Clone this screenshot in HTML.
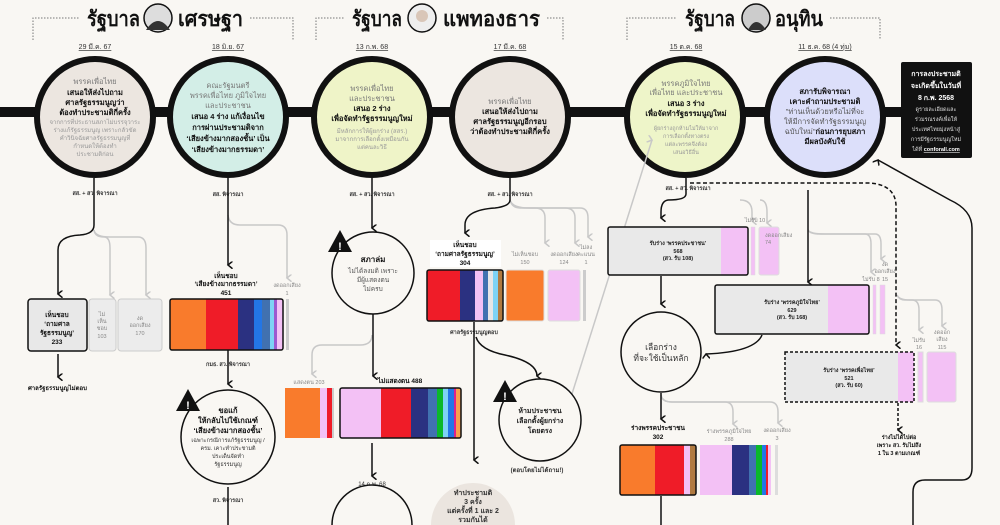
<!DOCTYPE html>
<html><head><meta charset="utf-8"><style>
html,body{margin:0;padding:0;background:#f9f7f3;width:1000px;height:525px;overflow:hidden}
svg{display:block;overflow:hidden;font-family:"Liberation Sans","DejaVu Sans","Noto Sans CJK SC",sans-serif}
.b{font-weight:bold}
</style></head><body>
<svg width="1000" height="525" viewBox="0 0 1000 525" xmlns="http://www.w3.org/2000/svg">
<defs>
<marker id="ah" viewBox="0 0 10 10" refX="5" refY="8" markerWidth="5" markerHeight="5" orient="auto-start-reverse"><path d="M0 2 L5 8 L10 2" fill="none" stroke="#111" stroke-width="2"/></marker>
<marker id="ag" viewBox="0 0 10 10" refX="5" refY="8" markerWidth="5" markerHeight="5" orient="auto-start-reverse"><path d="M0 2 L5 8 L10 2" fill="none" stroke="#c8c8c8" stroke-width="2"/></marker>
</defs>
<rect width="1000" height="525" fill="#f9f7f3"/>

<!-- header brackets -->
<g fill="none" stroke="#777" stroke-dasharray="1.5 1.5" stroke-width="1">
<path d="M33 40 V18 H80 M250 18 H293 V40"/>
<path d="M316 40 V18 H345 M547 18 H563 V40"/>
<path d="M627 40 V18 H677 M830 18 H880 V40"/>
</g>
<g font-size="21" class="b" fill="#111">
<text x="87" y="26" textLength="53" lengthAdjust="spacingAndGlyphs">รัฐบาล</text><text x="178" y="26" textLength="65" lengthAdjust="spacingAndGlyphs">เศรษฐา</text>
<text x="352" y="26" textLength="50" lengthAdjust="spacingAndGlyphs">รัฐบาล</text><text x="443" y="26" textLength="97" lengthAdjust="spacingAndGlyphs">แพทองธาร</text>
<text x="685" y="26" textLength="50" lengthAdjust="spacingAndGlyphs">รัฐบาล</text><text x="775" y="26" textLength="48" lengthAdjust="spacingAndGlyphs">อนุทิน</text>
</g>
<g stroke="#111" stroke-width="1.5">
<circle cx="158" cy="18" r="14" fill="#ddd"/><circle cx="422" cy="18" r="14" fill="#eee"/><circle cx="756" cy="18" r="14" fill="#ccc"/>
</g>
<path d="M146 30 Q158 12 170 30Z M748 30 Q756 14 766 30Z" fill="#333"/>
<circle cx="422" cy="16" r="6" fill="#d9c6b8"/>

<!-- dates -->
<g font-size="7" fill="#333" text-anchor="middle" text-decoration="underline">
<text x="95" y="49">29 มี.ค. 67</text><text x="228" y="49">18 มิ.ย. 67</text><text x="372" y="49">13 ก.พ. 68</text>
<text x="510" y="49">17 มี.ค. 68</text><text x="686" y="49">15 ต.ค. 68</text><text x="825" y="49">11 ธ.ค. 68 (4 ทุ่ม)</text>
</g>

<!-- timeline -->
<rect x="0" y="107" width="905" height="10" fill="#111"/>
<g stroke="#111" stroke-width="6">
<circle cx="95" cy="117" r="58" fill="#ece6e0"/>
<circle cx="228" cy="117" r="58" fill="#d3eee7"/>
<circle cx="372" cy="117" r="58" fill="#eff4c8"/>
<circle cx="510" cy="117" r="58" fill="#ece6e0"/>
<circle cx="685" cy="117" r="58" fill="#eef5c9"/>
<circle cx="825" cy="117" r="58" fill="#dcdffa"/>
</g>
<g text-anchor="middle" font-size="7.5">
<text x="95" y="84" fill="#777">พรรคเพื่อไทย</text>
<g class="b" fill="#111"><text x="95" y="95">เสนอให้ส่งไปถาม</text><text x="95" y="105">ศาลรัฐธรรมนูญว่า</text><text x="95" y="115">ต้องทำประชามติกี่ครั้ง</text></g>
<g fill="#999" font-size="6"><text x="95" y="124">จากการที่ประธานสภาไม่บรรจุวาระ</text><text x="95" y="132">ร่างแก้รัฐธรรมนูญ เพราะกลัวขัด</text><text x="95" y="140">คำวินิจฉัยศาลรัฐธรรมนูญที่</text><text x="95" y="148">กำหนดให้ต้องทำ</text><text x="95" y="156">ประชามติก่อน</text></g>

<text x="228" y="88" fill="#777">คณะรัฐมนตรี</text><text x="228" y="98" fill="#777">พรรคเพื่อไทย ภูมิใจไทย</text><text x="228" y="108" fill="#777">และประชาชน</text>
<g class="b" fill="#111"><text x="228" y="119">เสนอ 4 ร่าง แก้เงื่อนไข</text><text x="228" y="130">การผ่านประชามติจาก</text><text x="228" y="141">‘เสียงข้างมากสองชั้น’ เป็น</text><text x="228" y="152">‘เสียงข้างมากธรรมดา’</text></g>

<text x="372" y="91" fill="#777">พรรคเพื่อไทย</text><text x="372" y="101" fill="#777">และประชาชน</text>
<g class="b" fill="#111"><text x="372" y="111">เสนอ 2 ร่าง</text><text x="372" y="121">เพื่อจัดทำรัฐธรรมนูญใหม่</text></g>
<g fill="#999" font-size="6"><text x="372" y="133">มีหลักการให้ผู้ยกร่าง (สสร.)</text><text x="372" y="141">มาจากการเลือกตั้งเหมือนกัน</text><text x="372" y="149">แต่คนละวิธี</text></g>

<text x="510" y="104" fill="#777">พรรคเพื่อไทย</text>
<g class="b" fill="#111"><text x="510" y="114">เสนอให้ส่งไปถาม</text><text x="510" y="124">ศาลรัฐธรรมนูญอีกรอบ</text><text x="510" y="134">ว่าต้องทำประชามติกี่ครั้ง</text></g>

<text x="686" y="86" fill="#777">พรรคภูมิใจไทย</text><text x="686" y="95" fill="#777">เพื่อไทย และประชาชน</text>
<g class="b" fill="#111"><text x="686" y="106">เสนอ 3 ร่าง</text><text x="686" y="116">เพื่อจัดทำรัฐธรรมนูญใหม่</text></g>
<g fill="#999" font-size="5.5"><text x="686" y="130">ผู้ยกร่างถูกห้ามไม่ให้มาจาก</text><text x="686" y="138">การเลือกตั้งทางตรง</text><text x="686" y="146">แต่ละพรรคจึงต้อง</text><text x="686" y="154">เสนอวิธีอื่น</text></g>

<g class="b" fill="#111"><text x="825" y="94">สภารับพิจารณา</text><text x="825" y="104">เคาะคำถามประชามติ</text></g>
<g fill="#555"><text x="825" y="114">"ท่านเห็นด้วยหรือไม่ที่จะ</text><text x="825" y="124">ให้มีการจัดทำรัฐธรรมนูญ</text><text x="825" y="134">ฉบับใหม่"<tspan class="b" fill="#111">ก่อนการยุบสภา</tspan></text></g>
<text x="825" y="144" class="b" fill="#111">มีผลบังคับใช้</text>
</g>

<!-- black box -->
<rect x="901" y="62" width="71" height="96" rx="2" fill="#111"/>
<g text-anchor="middle" fill="#fff" font-size="7">
<g class="b"><text x="936" y="76">การลงประชามติ</text><text x="936" y="88">จะเกิดขึ้นในวันที่</text><text x="936" y="100">8 ก.พ. 2568</text></g>
<g font-size="5.5" fill="#ddd"><text x="936" y="111">ดูรายละเอียดและ</text><text x="936" y="121">ร่วมรณรงค์เพื่อให้</text><text x="936" y="131">ประเทศไทยมุ่งหน้าสู่</text><text x="936" y="141">การมีรัฐธรรมนูญใหม่</text><text x="936" y="151">ได้ที่ <tspan class="b" fill="#fff" text-decoration="underline">conforall.com</tspan></text></g>
</g>

<!-- small labels under circles -->
<g font-size="5.5" fill="#333" text-anchor="middle" class="b">
<text x="95" y="195">สส. + สว. พิจารณา</text><text x="228" y="196">สส. พิจารณา</text><text x="372" y="196">สส. + สว. พิจารณา</text>
<text x="510" y="196">สส. + สว. พิจารณา</text><text x="688" y="190">สส. + สว. พิจารณา</text>
<text x="228" y="366">กมธ. สว. พิจารณา</text><text x="228" y="502">สว. พิจารณา</text><text x="474" y="334">ศาลรัฐธรรมนูญตอบ</text>
</g>

<!-- grey connectors -->
<g fill="none" stroke="#c8c8c8" stroke-width="1.5">
<path d="M94 230 Q95 237 104 237 Q110 237 110 248 V295" marker-end="url(#ag)"/>
<path d="M94 230 Q95 237 110 237 H138 Q146 237 146 248 V295" marker-end="url(#ag)"/>
<path d="M228 215 Q229 225 240 225 H278 Q287 225 287 235 V278" marker-end="url(#ag)"/>
<path d="M372 335 Q372 345 360 345 H322 Q312 345 312 355 V374" marker-end="url(#ag)"/>
<path d="M510 200 Q512 208 520 208 H535 Q545 208 545 218 V243" marker-end="url(#ag)"/>
<path d="M510 200 Q512 208 525 208 H565 Q575 208 575 218 V243" marker-end="url(#ag)"/>
<path d="M510 200 Q512 208 530 208 H580 Q588 208 588 218 V237" marker-end="url(#ag)"/>
<path d="M740 200 Q752 200 752 212 V221" marker-end="url(#ag)"/>
<path d="M760 200 Q767 200 767 212 V223" marker-end="url(#ag)"/>
<path d="M808 230 Q810 234 820 234 H865 Q871 234 871 244 V272" marker-end="url(#ag)"/>
<path d="M808 230 Q810 234 825 234 H875 Q881 234 881 244 V259" marker-end="url(#ag)"/>
<path d="M897 295 Q899 300 905 300 H912 Q919 300 919 310 V330" marker-end="url(#ag)"/>
<path d="M897 295 Q899 300 910 300 H935 Q942 300 942 310 V326" marker-end="url(#ag)"/>
<path d="M661 395 Q662 402 672 402 H725 Q733 402 733 412 V424" marker-end="url(#ag)"/>
<path d="M661 395 Q662 402 672 402 H770 Q778 402 778 412 V423" marker-end="url(#ag)"/>
<path d="M571 397 L652 140" marker-end="url(#ag)"/>
</g>

<!-- black connectors -->
<g fill="none" stroke="#111" stroke-width="1.5">
<path d="M94 178 V225 Q94 234 80 235 Q58 236 58 250 V294" marker-end="url(#ah)"/>
<path d="M58 354 V377" marker-end="url(#ah)"/>
<path d="M228 178 V265" marker-end="url(#ah)"/>
<path d="M228 350 V384" marker-end="url(#ah)"/>
<path d="M228 487 V525"/>
<path d="M372 178 V228" marker-end="url(#ah)"/>
<path d="M373 314 V376" marker-end="url(#ah)"/>
<path d="M372 443 V476" marker-end="url(#ah)"/>
<path d="M510 178 V200 Q510 206 495 208 Q465 210 465 225 V233" marker-end="url(#ah)"/>
<path d="M474 322 V460" marker-end="url(#ah)"/>
<path d="M476 337 Q480 350 505 355 Q537 362 537 376" marker-end="url(#ah)"/>
<path d="M686 178 V194 Q686 200 668 200 Q661 201 661 212 V218" marker-end="url(#ah)"/>
<path d="M808 190 V282" marker-end="url(#ah)"/>
<path d="M661 276 V304" marker-end="url(#ah)"/>
<path d="M762 335 Q755 352 706 354" marker-end="url(#ah)"/>
<path d="M661 393 V419" marker-end="url(#ah)"/>
<path d="M661 496 V525"/>
<path d="M913 525 V492 Q913 480 925 480 H962 Q972 480 972 468 V228 Q972 210 950 200 L878 160" marker-end="url(#ah)"/>
<path d="M690 183 H870 Q895 185 896 205 V345" stroke-dasharray="4 2.5" marker-end="url(#ah)"/>
<path d="M898 403 V430" stroke-dasharray="3 2" marker-end="url(#ah)"/>
</g>

<!-- column 1 boxes -->
<rect x="28" y="299" width="59" height="52" rx="3" fill="#e8e8e8" stroke="#111" stroke-width="1.5"/>
<rect x="89" y="299" width="27" height="52" rx="3" fill="#ececec" stroke="#ccc"/>
<rect x="118" y="299" width="44" height="52" rx="3" fill="#ececec" stroke="#ccc"/>
<g text-anchor="middle" font-size="6.5">
<g class="b" fill="#111"><text x="57" y="317">เห็นชอบ</text><text x="57" y="326">‘ถามศาล</text><text x="57" y="335">รัฐธรรมนูญ’</text><text x="57" y="344">233</text></g>
<g fill="#888" font-size="5.5"><text x="102" y="316">ไม่</text><text x="102" y="323">เห็น</text><text x="102" y="330">ชอบ</text><text x="102" y="338">103</text>
<text x="140" y="320">งด</text><text x="140" y="327">ออกเสียง</text><text x="140" y="335">170</text></g>
</g>
<text x="28" y="390" font-size="6" class="b" fill="#111">ศาลรัฐธรรมนูญไม่ตอบ</text>

<!-- column 2 bar -->
<g text-anchor="middle" class="b" font-size="6.5" fill="#111"><text x="226" y="278">เห็นชอบ</text><text x="226" y="286">‘เสียงข้างมากธรรมดา’</text><text x="226" y="295">451</text></g>
<g font-size="5.5" fill="#888" text-anchor="middle"><text x="287" y="287">งดออกเสียง</text><text x="287" y="295">1</text></g>
<rect x="170" y="299" width="36" height="51" fill="#f97b2c"/><rect x="206" y="299" width="32" height="51" fill="#ef1c28"/>
<rect x="238" y="299" width="16" height="51" fill="#2b3181"/><rect x="254" y="299" width="8" height="51" fill="#2376e6"/>
<rect x="262" y="299" width="8" height="51" fill="#4171b0"/><rect x="270" y="299" width="4" height="51" fill="#7dd3f5"/>
<rect x="274" y="299" width="3" height="51" fill="#9b59d0"/><rect x="277" y="299" width="6" height="51" fill="#f3c1f5"/>
<rect x="170" y="299" width="113" height="51" rx="2" fill="none" stroke="#111" stroke-width="1.5"/>
<rect x="286" y="299" width="3" height="51" fill="#ccc"/>

<!-- col2 warning circle -->
<circle cx="228" cy="437" r="47" fill="#f9f7f3" stroke="#111" stroke-width="1.5"/>
<g text-anchor="middle" fill="#111"><g class="b" font-size="7.5"><text x="228" y="413">ขอแก้</text><text x="228" y="423">ให้กลับไปใช้เกณฑ์</text><text x="228" y="433">‘เสียงข้างมากสองชั้น’</text></g>
<g font-size="5.5" fill="#333"><text x="228" y="442">เฉพาะกรณีการแก้รัฐธรรมนูญ /</text><text x="228" y="450">ครม. เคาะทำประชามติ</text><text x="228" y="458">ประเด็นจัดทำ</text><text x="228" y="466">รัฐธรรมนูญ</text></g></g>

<!-- col3 -->
<circle cx="373" cy="273" r="41" fill="#f9f7f3" stroke="#111" stroke-width="1.5"/>
<g text-anchor="middle"><text x="373" y="262" class="b" font-size="8" fill="#111">สภาล่ม</text>
<g font-size="6.5" fill="#555"><text x="373" y="273">ไม่ได้ลงมติ เพราะ</text><text x="373" y="282">มีผู้แสดงตน</text><text x="373" y="291">ไม่ครบ</text></g></g>
<text x="309" y="384" font-size="5.5" fill="#888" text-anchor="middle">แสดงตน 203</text>
<text x="400" y="383" font-size="6.5" class="b" fill="#111" text-anchor="middle">ไม่แสดงตน 488</text>
<rect x="285" y="388" width="35" height="50" fill="#f97b2c"/><rect x="320" y="388" width="7" height="50" fill="#f3c1f5"/><rect x="327" y="388" width="5" height="50" fill="#ef1c28"/><rect x="332" y="388" width="2" height="50" fill="#ccc"/>
<rect x="340" y="388" width="41" height="50" fill="#f3c1f5"/><rect x="381" y="388" width="30" height="50" fill="#ef1c28"/><rect x="411" y="388" width="17" height="50" fill="#2b3181"/>
<rect x="428" y="388" width="9" height="50" fill="#4171b0"/><rect x="437" y="388" width="6" height="50" fill="#0ab82a"/><rect x="443" y="388" width="5" height="50" fill="#7dd3f5"/>
<rect x="448" y="388" width="6" height="50" fill="#2376e6"/><rect x="454" y="388" width="2" height="50" fill="#e0208a"/><rect x="456" y="388" width="5" height="50" fill="#f9a04c"/>
<rect x="340" y="388" width="121" height="50" rx="2" fill="none" stroke="#111" stroke-width="1.5"/>
<text x="372" y="486" font-size="6" fill="#333" text-anchor="middle" text-decoration="underline">14 ก.พ. 68</text>
<path d="M332 525 A40 40 0 0 1 412 525" fill="#f9f7f3" stroke="#111" stroke-width="1.5"/>

<!-- col4 -->
<rect x="430" y="240" width="71" height="27" fill="#fff"/>
<g text-anchor="middle" class="b" font-size="6.5" fill="#111"><text x="465" y="247">เห็นชอบ</text><text x="465" y="256">‘ถามศาลรัฐธรรมนูญ’</text><text x="465" y="265">304</text></g>
<g font-size="5.5" fill="#888" text-anchor="middle"><text x="525" y="256">ไม่เห็นชอบ</text><text x="525" y="264">150</text><text x="564" y="256">งดออกเสียง</text><text x="564" y="264">124</text><text x="586" y="249">ไม่ลง</text><text x="586" y="256">คะแนน</text><text x="586" y="264">1</text></g>
<rect x="427" y="270" width="33" height="51" fill="#ef1c28"/><rect x="460" y="270" width="15" height="51" fill="#2b3181"/><rect x="475" y="270" width="8" height="51" fill="#f3c1f5"/>
<rect x="483" y="270" width="5" height="51" fill="#4171b0"/><rect x="488" y="270" width="5" height="51" fill="#e6e6e6"/><rect x="493" y="270" width="5" height="51" fill="#7dd3f5"/><rect x="498" y="270" width="5" height="51" fill="#b07a40"/>
<rect x="427" y="270" width="76" height="51" rx="2" fill="none" stroke="#111" stroke-width="1.5"/>
<rect x="506" y="270" width="38" height="51" rx="2" fill="#f97b2c" stroke="#ddd"/>
<rect x="548" y="270" width="32" height="51" rx="2" fill="#f3c1f5" stroke="#ddd"/>
<rect x="583" y="270" width="3" height="51" fill="#ccc"/>
<circle cx="540" cy="420" r="41" fill="#f9f7f3" stroke="#111" stroke-width="1.5"/>
<g text-anchor="middle" class="b" font-size="7" fill="#222"><text x="540" y="413">ห้ามประชาชน</text><text x="540" y="423">เลือกตั้งผู้ยกร่าง</text><text x="540" y="433">โดยตรง</text></g>
<text x="537" y="472" text-anchor="middle" font-size="6" class="b" fill="#333">(ตอบโดยไม่ได้ถาม!)</text>
<path d="M431 525 A42 42 0 0 1 515 525Z" fill="#ebe5df"/>
<g text-anchor="middle" class="b" font-size="7" fill="#333"><text x="473" y="495">ทำประชามติ</text><text x="473" y="504">3 ครั้ง</text><text x="473" y="513">แต่ครั้งที่ 1 และ 2</text><text x="473" y="522">รวมกันได้</text></g>

<!-- col5 boxes -->
<text x="755" y="222" font-size="5.5" fill="#888" text-anchor="middle">ไม่รับ 10</text>
<rect x="608" y="227" width="140" height="48" rx="2" fill="#e9e9e9"/><rect x="721" y="227" width="27" height="48" fill="#f3c1f5"/>
<rect x="608" y="227" width="140" height="48" rx="2" fill="none" stroke="#111" stroke-width="1.5"/>
<rect x="751" y="227" width="4" height="48" fill="#f3c1f5" stroke="#ddd" stroke-width=".5"/>
<rect x="759" y="227" width="20" height="48" rx="2" fill="#f3c1f5" stroke="#ddd"/>
<g font-size="5.5" fill="#888"><text x="765" y="237">งดออกเสียง</text><text x="765" y="244">74</text></g>
<g text-anchor="middle" class="b" font-size="5.5" fill="#222"><text x="678" y="245">รับร่าง ‘พรรคประชาชน’</text><text x="678" y="253">568</text><text x="678" y="260">(สว. รับ 108)</text></g>

<g font-size="5.5" fill="#888" text-anchor="middle"><text x="871" y="281">ไม่รับ 8</text><text x="885" y="266">งด</text><text x="885" y="273">ออกเสียง</text><text x="885" y="281">15</text>
<text x="919" y="342">ไม่รับ</text><text x="919" y="349">16</text><text x="942" y="334">งดออก</text><text x="942" y="341">เสียง</text><text x="942" y="349">115</text></g>
<rect x="715" y="285" width="154" height="49" rx="2" fill="#e9e9e9"/><rect x="828" y="285" width="41" height="49" fill="#f3c1f5"/>
<rect x="715" y="285" width="154" height="49" rx="2" fill="none" stroke="#111" stroke-width="1.5"/>
<rect x="873" y="285" width="3" height="49" fill="#f3c1f5" stroke="#ddd" stroke-width=".5"/><rect x="880" y="285" width="5" height="49" fill="#f3c1f5" stroke="#ddd" stroke-width=".5"/>
<g text-anchor="middle" class="b" font-size="5.5" fill="#222"><text x="792" y="304">รับร่าง ‘พรรคภูมิใจไทย’</text><text x="792" y="312">629</text><text x="792" y="319">(สว. รับ 168)</text></g>

<rect x="785" y="352" width="129" height="50" fill="#e9e9e9"/><rect x="898" y="352" width="16" height="50" fill="#f3c1f5"/>
<rect x="785" y="352" width="129" height="50" fill="none" stroke="#111" stroke-width="1.5" stroke-dasharray="3 2"/>
<rect x="918" y="352" width="5" height="50" fill="#f3c1f5" stroke="#ddd"/><rect x="927" y="352" width="29" height="50" rx="2" fill="#f3c1f5" stroke="#ddd"/>
<g text-anchor="middle" class="b" font-size="5.5" fill="#222"><text x="849" y="372">รับร่าง ‘พรรคเพื่อไทย’</text><text x="849" y="380">521</text><text x="849" y="387">(สว. รับ 60)</text></g>
<g text-anchor="middle" class="b" font-size="5.5" fill="#111"><text x="899" y="439">ร่างไม่ได้ไปต่อ</text><text x="899" y="447">เพราะ สว. รับไม่ถึง</text><text x="899" y="455">1 ใน 3 ตามเกณฑ์</text></g>

<circle cx="661" cy="352" r="40" fill="#f9f7f3" stroke="#111" stroke-width="1.5"/>
<g text-anchor="middle" font-size="8.5" fill="#333"><text x="661" y="350">เลือกร่าง</text><text x="661" y="361">ที่จะใช้เป็นหลัก</text></g>
<g text-anchor="middle" class="b" font-size="6.5" fill="#111"><text x="658" y="430">ร่างพรรคประชาชน</text><text x="658" y="439">302</text></g>
<g font-size="5.5" fill="#888" text-anchor="middle"><text x="729" y="433">ร่างพรรคภูมิใจไทย</text><text x="729" y="441">288</text><text x="777" y="432">งดออกเสียง</text><text x="777" y="440">3</text></g>
<rect x="620" y="445" width="35" height="50" fill="#f97b2c"/><rect x="655" y="445" width="29" height="50" fill="#ef1c28"/><rect x="684" y="445" width="6" height="50" fill="#f3c1f5"/><rect x="690" y="445" width="6" height="50" fill="#b07a40"/>
<rect x="620" y="445" width="76" height="50" rx="2" fill="none" stroke="#111" stroke-width="1.5"/>
<rect x="700" y="445" width="32" height="50" fill="#f3c1f5"/><rect x="732" y="445" width="17" height="50" fill="#2b3181"/><rect x="749" y="445" width="7" height="50" fill="#4171b0"/>
<rect x="756" y="445" width="6" height="50" fill="#0ab82a"/><rect x="762" y="445" width="4" height="50" fill="#2376e6"/><rect x="766" y="445" width="2" height="50" fill="#ef1c28"/><rect x="768" y="445" width="3" height="50" fill="#f3c1f5"/>
<rect x="775" y="445" width="3" height="50" fill="#ddd"/>

<!-- warning triangles -->
<g>
<path d="M340 230 L352 252 L328 252Z" fill="#111"/><text x="340" y="250" font-size="11" class="b" fill="#fff" text-anchor="middle">!</text>
<path d="M188 389 L200 411 L176 411Z" fill="#111"/><text x="188" y="409" font-size="11" class="b" fill="#fff" text-anchor="middle">!</text>
<path d="M505 380 L517 402 L493 402Z" fill="#111"/><text x="505" y="400" font-size="11" class="b" fill="#fff" text-anchor="middle">!</text>
</g>
</svg>
</body></html>
